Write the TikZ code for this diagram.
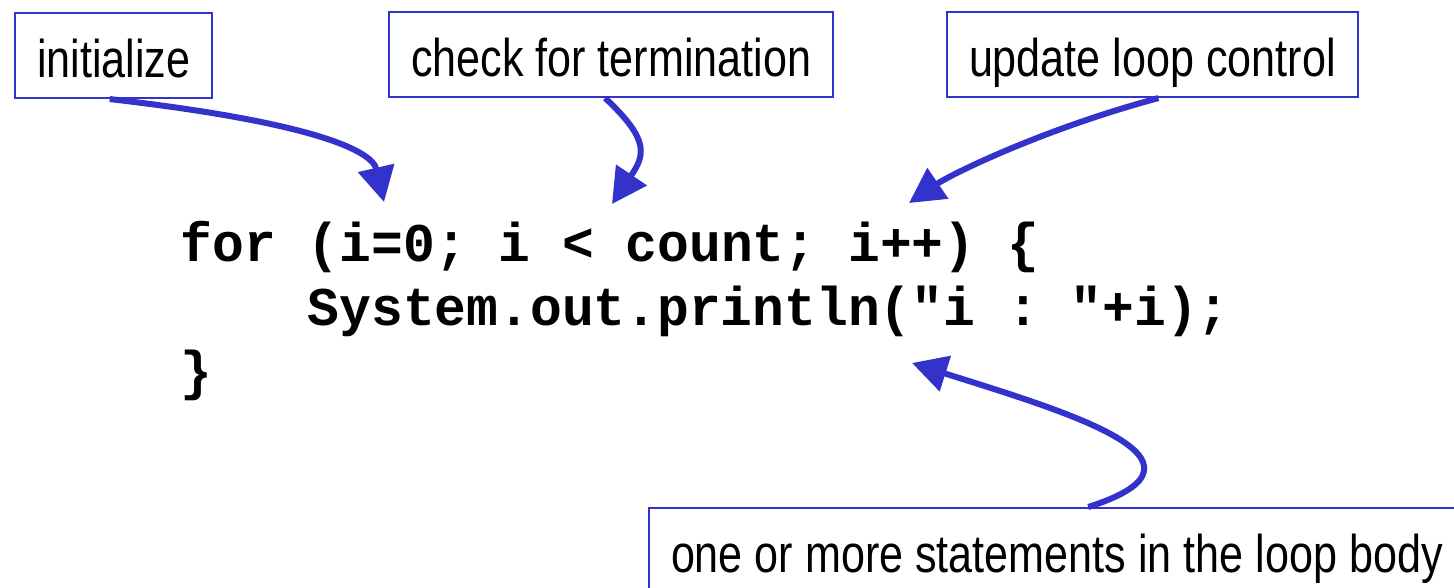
\documentclass[tikz,border=0pt]{standalone}
\usepackage{fontspec}
\setmainfont{Liberation Sans}
\newfontfamily\lblfont[FakeStretch=0.812]{Liberation Sans}
\setmonofont{Liberation Mono}[FakeStretch=0.972]
\usetikzlibrary{arrows.meta}
\definecolor{lpblue}{RGB}{51,51,204}
\tikzset{
  lbl/.style={draw=lpblue,line width=0.02cm,anchor=north west,inner xsep=0.22cm,
    inner ysep=0pt,minimum height=0.85cm,text height=0.56cm,text depth=0.13cm,
    font=\lblfont\fontsize{15.1}{18}\selectfont},
  code/.style={anchor=base west,inner sep=0pt,font=\ttfamily\bfseries\fontsize{15.5}{18}\selectfont},
  ptr/.style={lpblue,line width=0.06cm,-{Triangle[length=0.35cm,width=0.36cm]}}
}

\begin{document}
\begin{tikzpicture}[x=0.01cm,y=-0.01cm]
  \useasboundingbox (0,0) rectangle (1454,587);
  \clip (0,0) rectangle (1454,587);
  \node[lbl] (init) at (14,12) {initialize};
  \node[lbl] (check) at (388,11) {check for termination};
  \node[lbl] (update) at (946,11) {update loop control};
  \node[lbl] (body) at (648,507) {one or more statements in the loop body};
  \node[code] (forline) at (180,261) {for (i=0; i < count; i++) \{};
  \node[code] (printline) at (307,325) {System.out.println("i : "+i);};
  \node[code] (closeline) at (180,389) {\}};
  \coordinate (initTip) at (384,202);
  \coordinate (checkTip) at (612,204);
  \coordinate (updateTip) at (909,203);
  \coordinate (bodyTip) at (912,363);
  \draw[ptr] ([xshift=-0.04cm]init.south) .. controls (310,122) and (372,150) .. (initTip);
  \draw[ptr] ([xshift=-0.06cm]check.south) .. controls (650,140) and (645,155) .. (checkTip);
  \draw[ptr] ([xshift=0.06cm]update.south) .. controls (1040,130) and (950,175) .. (updateTip);
  \draw[ptr] ([xshift=4.4cm]body.north west) .. controls (1235,460) and (1060,410) .. (bodyTip);
\end{tikzpicture}
\end{document}
